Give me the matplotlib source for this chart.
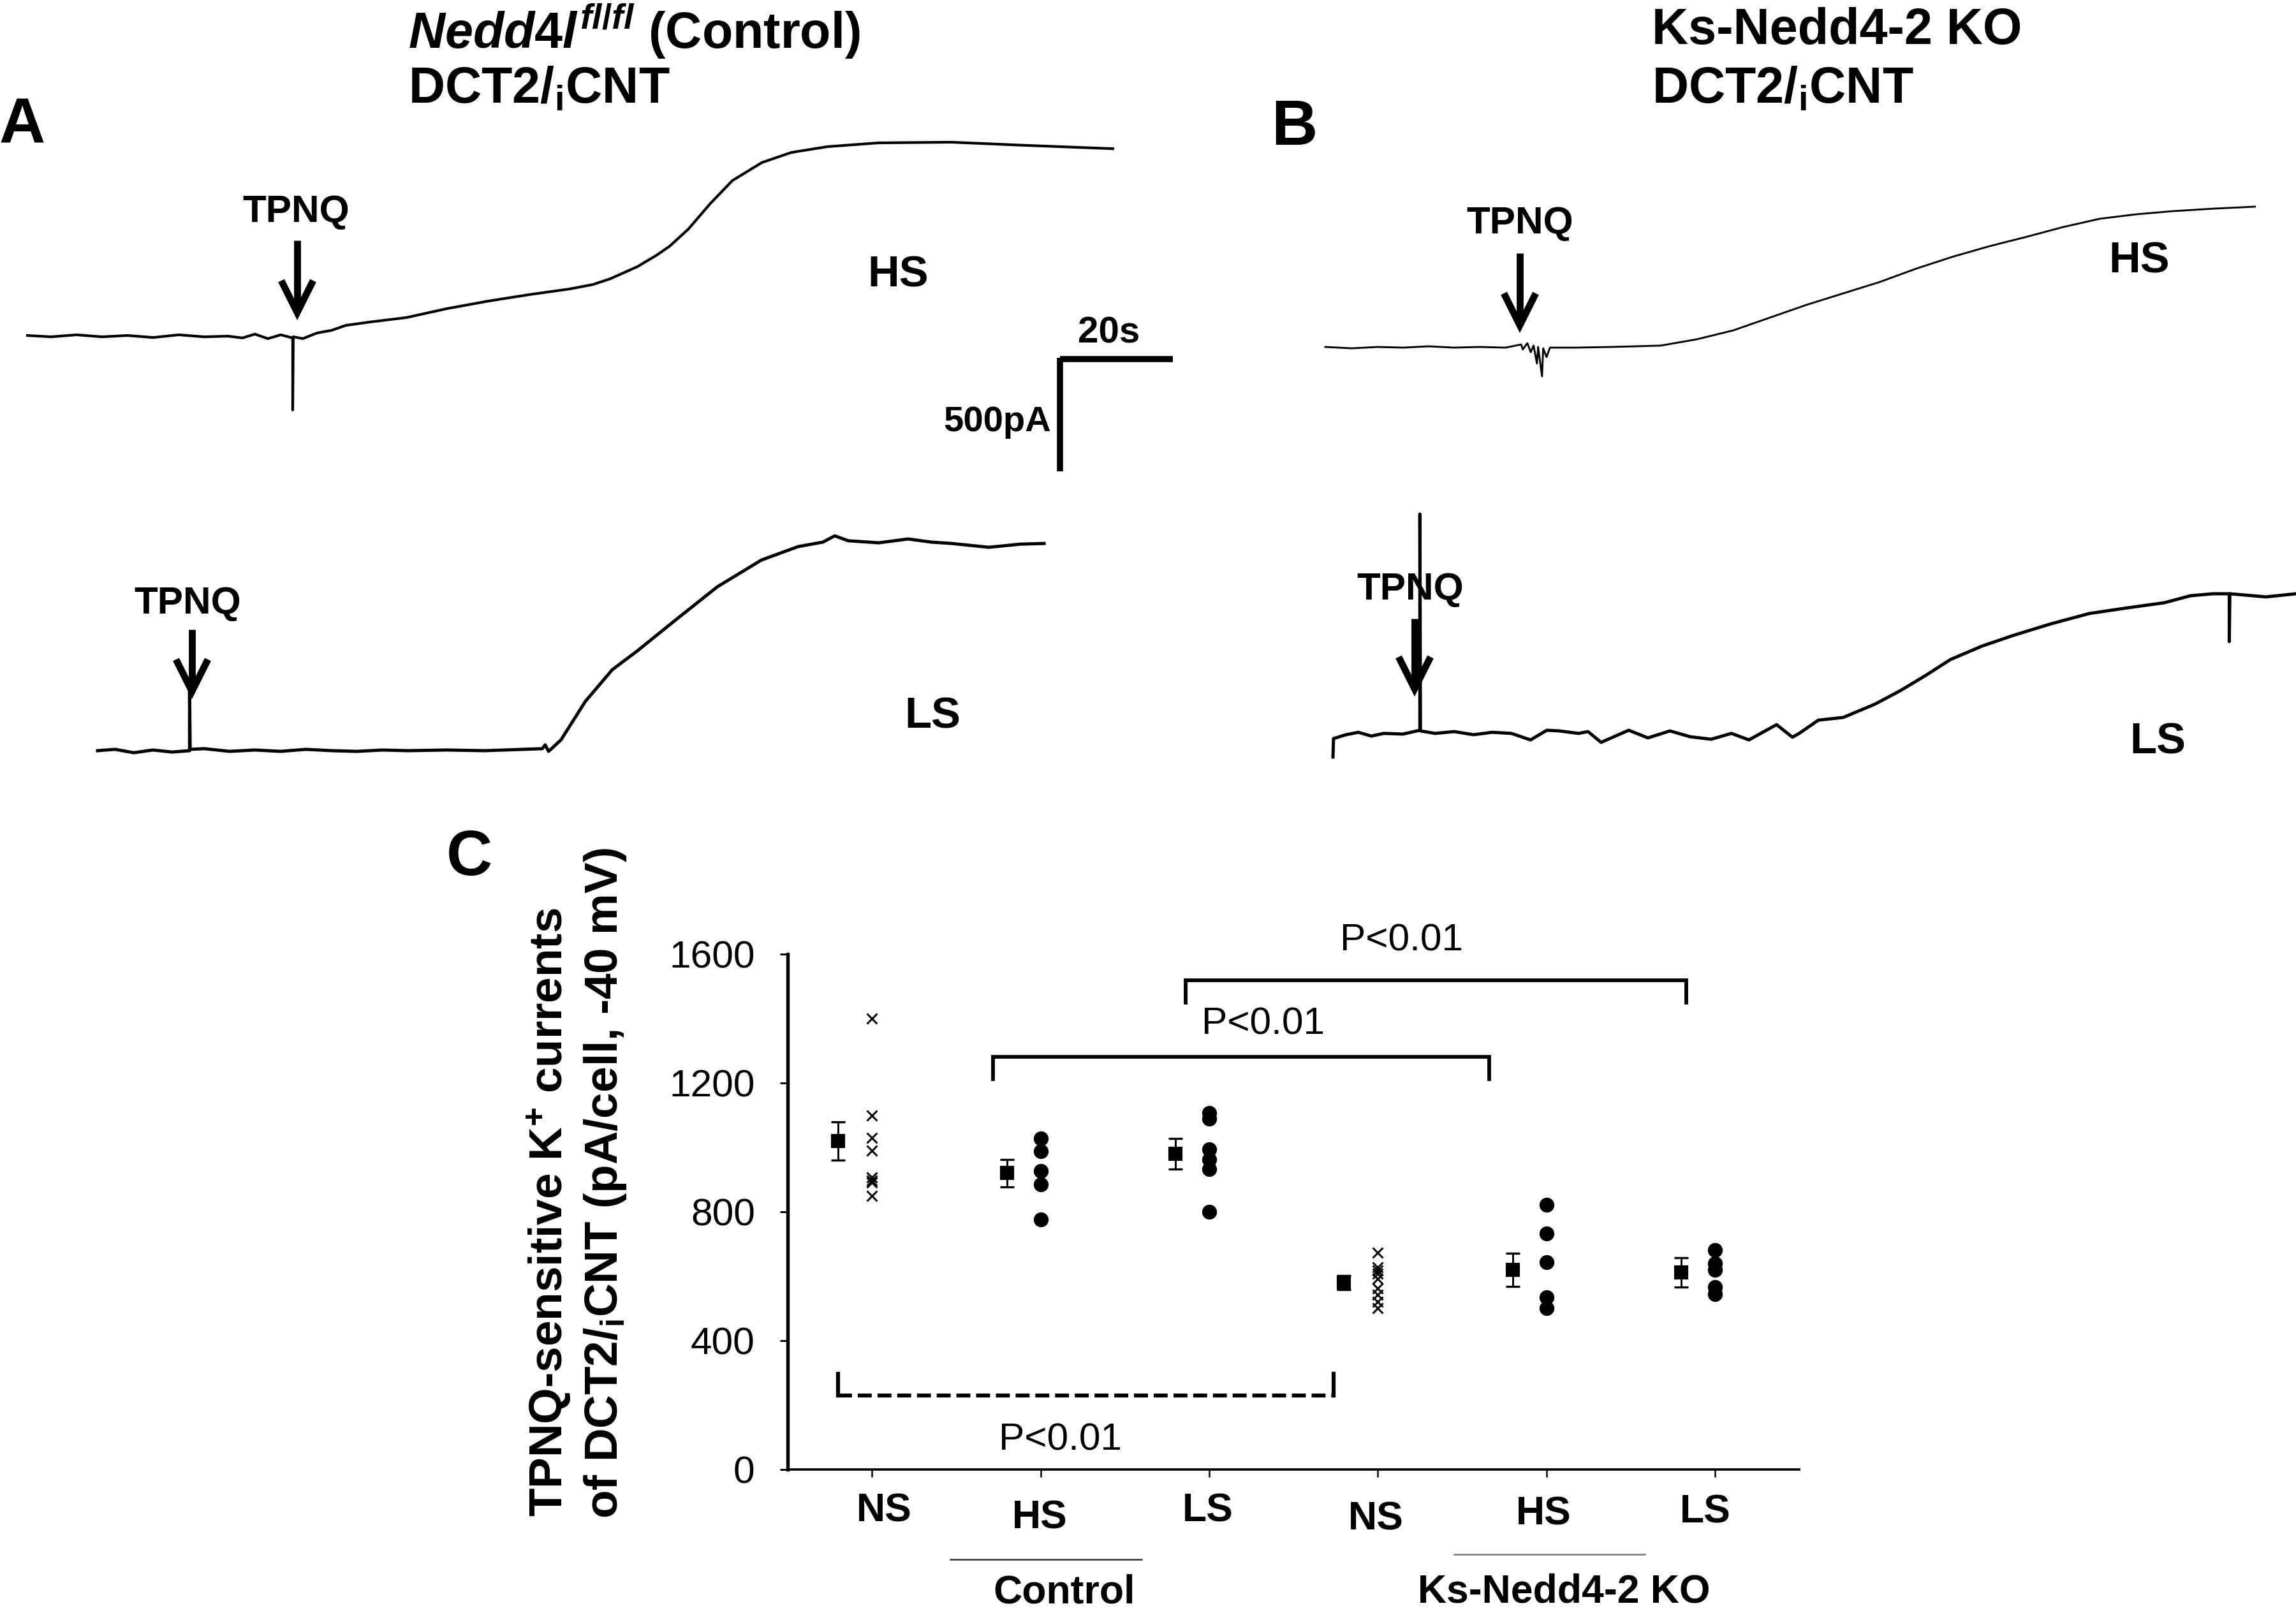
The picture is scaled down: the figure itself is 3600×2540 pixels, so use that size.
import matplotlib
matplotlib.use("Agg")
import matplotlib.pyplot as plt
from matplotlib.transforms import ScaledTranslation

plt.rcParams["font.family"] = ["Liberation Sans", "DejaVu Sans"]
plt.rcParams["mathtext.fontset"] = "custom"
plt.rcParams["mathtext.rm"] = "Liberation Sans:bold"
plt.rcParams["mathtext.it"] = "Liberation Sans:italic:bold"
plt.rcParams["mathtext.bf"] = "Liberation Sans:bold"
plt.rcParams["mathtext.sf"] = "Liberation Sans:bold"

# ---------------- data: current traces (time in s, current in pA) ----------------
a_hs_t = [0, 4.2, 8.7, 13.2, 17.7, 22.3, 26.8, 31.3, 35.5, 38.1, 40.3, 42.6, 44.9, 47.0, 47.0, 47.1,
          48.8, 51.3, 53.9, 56.4, 60.7, 67.2, 74.2, 81.6, 88.9, 96.0, 100.2, 103.3, 108.1, 111.5,
          113.8, 117.1, 121.0, 124.9, 130.1, 135.3, 141.7, 150.8, 163.7, 176.7, 192.3]
a_hs_i = [0, -6, 3, -6, 0, -9, 3, -6, -3, -11, 6, -14, 3, -11, -332, -6,
          -14, 11, 23, 45, 60, 80, 119, 153, 182, 207, 227, 253, 307, 358,
          398, 474, 588, 690, 770, 815, 841, 858, 861, 847, 832]

a_ls_t = [0, 3.1, 6.4, 9.8, 13.2, 16.3, 16.3, 16.4, 18.9, 23.4, 27.9, 32.4, 36.9, 41.5, 46.0, 50.5,
          55.0, 61.8, 68.6, 75.4, 78.8, 79.3, 79.9, 82.1, 86.4, 91.2, 95.7, 102.0, 109.8, 117.6,
          124.1, 128.5, 130.6, 133.0, 138.4, 143.6, 147.7, 151.3, 157.9, 163.5, 167.7]
a_ls_i = [0, 6, -9, 3, -6, 0, 273, 6, 9, -3, 3, -3, 6, 0, -3, 3,
          0, 3, 0, 6, 9, 26, -3, 48, 219, 361, 446, 574, 730, 849,
          909, 929, 957, 935, 926, 943, 929, 923, 906, 920, 923]

b_hs_t = [0, 4.7, 9.3, 13.8, 18.3, 22.8, 27.3, 31.9, 34.7, 35.0, 35.8, 36.4, 36.9, 37.5, 37.7, 38.4,
          38.6, 39.2, 39.8, 44.3, 50.6, 59.4, 65.8, 72.3, 78.8, 85.3, 91.8, 98.3, 104.7, 111.3,
          117.7, 124.3, 130.7, 137.2, 143.7, 150.2, 157.3, 164.7]
b_hs_i = [0, -6, 0, -3, 3, -3, 0, -3, 11, -11, 17, -23, 6, -74, 0, -131,
          -6, -45, -3, -3, 0, 6, 34, 74, 131, 188, 239, 290, 349, 403,
          449, 491, 534, 571, 591, 605, 616, 625]

b_ls_t = [0, 0.1, 2.3, 4.5, 6.8, 9.0, 12.4, 15.4, 15.4, 15.5, 18.1, 21.5, 24.9, 28.2, 31.6, 35.0,
          37.9, 40.1, 43.5, 45.2, 47.5, 52.4, 55.8, 59.7, 63.3, 67.0, 70.6, 73.7, 78.6, 81.4,
          82.6, 86.0, 90.4, 96.0, 100.5, 105.0, 109.4, 115.0, 120.6, 127.2, 134.0, 140.7, 147.3,
          151.9, 155.9, 158.8, 158.8, 158.9, 165.3, 170.6]
b_ls_i = [-99, -17, 0, 11, -6, 6, 3, 20, 983, 17, 6, 14, 0, 11, 6, -23,
          20, 17, 6, 14, -34, 20, -14, 17, -9, -20, 6, -23, 45, -11,
          6, 65, 77, 136, 196, 264, 335, 395, 443, 494, 540, 565, 588,
          619, 628, 628, 415, 628, 614, 628]

scale_t = 20     # s
scale_i = 500    # pA

# ---------------- data: panel C ----------------
groups = ["NS", "HS", "LS", "NS", "HS", "LS"]
means = [1020, 920, 980, 580, 620, 612]
sems = [60, 43, 47, 21, 52, 46]
ctrl_ns = [1400, 1100, 1030, 990, 906, 898, 891, 850]
ctrl_hs = [1028, 988, 927, 886, 777]
ctrl_ls = [1106, 1090, 995, 962, 932, 800]
ko_ns = [673, 628, 618, 608, 592, 563, 543, 520, 501]
ko_hs = [822, 733, 643, 534, 501]
ko_ls = [682, 639, 620, 567, 544]
y_ticks = [0, 400, 800, 1200, 1600]

# ---------------- figure ----------------
W, H, DPI = 3600, 2540, 300
fig = plt.figure(figsize=(W / DPI, H / DPI), dpi=DPI)
PX_PER_S = 8.85
PX_PER_PA = 0.352


def trace_axes(x0, y0):
    ax = fig.add_axes([0, 0, 1, 1])
    ax.set_xlim(-x0 / PX_PER_S, (W - x0) / PX_PER_S)
    ax.set_ylim(-(H - y0) / PX_PER_PA, y0 / PX_PER_PA)
    ax.axis("off")
    ax.patch.set_visible(False)
    return ax


ax_ahs = trace_axes(43, 526)
ax_ahs.plot(a_hs_t, a_hs_i, color="k", lw=1.0)
ax_als = trace_axes(153, 1177)
ax_als.plot(a_ls_t, a_ls_i, color="k", lw=1.2)
ax_bhs = trace_axes(2078, 544)
ax_bhs.plot(b_hs_t, b_hs_i, color="k", lw=0.7)
ax_bls = trace_axes(2090, 1152)
ax_bls.plot(b_ls_t, b_ls_i, color="k", lw=1.2)

# scale bar (in A-HS trace coordinates)
sb_t0, sb_i0 = 182.9, -105
ax_ahs.plot([sb_t0, sb_t0 + scale_t], [sb_i0, sb_i0], color="k", lw=2.3, solid_capstyle="butt")
ax_ahs.plot([sb_t0, sb_t0], [sb_i0 + 5, sb_i0 - scale_i], color="k", lw=2.3, solid_capstyle="butt")

# overlay in pixel coordinates for annotations
ov = fig.add_axes([0, 0, 1, 1])
ov.set_xlim(0, W)
ov.set_ylim(H, 0)
ov.axis("off")
ov.patch.set_visible(False)

bold = dict(fontweight="bold", color="k")
ov.text(35, 199, "A", fontsize=24, ha="center", va="center", **bold)
ov.text(2029, 201, "B", fontsize=24, ha="center", va="center", **bold)
ov.text(736, 1346, "C", fontsize=24, ha="center", va="center", **bold)

ov.text(640, 48, r"$\mathit{Nedd4l}^{\mathit{fl/fl}}$ (Control)", fontsize=19, ha="left", va="center", **bold)
ov.text(640, 141, r"DCT2/$_\mathrm{i}$CNT", fontsize=19, ha="left", va="center", **bold)
ov.text(2590, 48, "Ks-Nedd4-2 KO", fontsize=19, ha="left", va="center", **bold)
ov.text(2590, 141, r"DCT2/$_\mathrm{i}$CNT", fontsize=19, ha="left", va="center", **bold)

for (x, y, s) in [(1408, 432, "HS"), (1462, 1123, "LS"), (3354, 410, "HS"), (3383, 1164, "LS")]:
    ov.text(x, y, s, fontsize=16.5, ha="center", va="center", **bold)

for (x, y) in [(464, 332), (294, 946), (2383, 351), (2211, 924)]:
    ov.text(x, y, "TPNQ", fontsize=14.5, ha="center", va="center", **bold)


def down_arrow(x, top, tip, hw=25, hh=50):
    ov.plot([x, x], [top, tip - 6], color="k", lw=2.6, solid_capstyle="butt")
    ov.plot([x - hw, x, x + hw], [tip - hh, tip, tip - hh], color="k", lw=2.6,
            solid_joinstyle="miter", solid_capstyle="butt")


down_arrow(466, 377, 490)
down_arrow(301, 987, 1084)
down_arrow(2383, 397, 510)
down_arrow(2218, 970, 1080)

ov.text(1739, 522, "20s", fontsize=14, ha="center", va="center", **bold)
ov.text(1564, 662, "500pA", fontsize=13.5, ha="center", va="center", **bold)

# y label of panel C (two rotated lines)
ov.text(861, 2378, r"TPNQ-sensitive K$^{+}$ currents", fontsize=17.5, rotation=90,
        rotation_mode="anchor", ha="left", va="center", **bold)
ov.text(949, 2381, r"of DCT2/$_\mathrm{i}$CNT (pA/cell, -40 mV)", fontsize=17.5, rotation=90,
        rotation_mode="anchor", ha="left", va="center", **bold)

# group labels under the axis
ov.plot([1490, 1790], [2445, 2445], color="#333333", lw=0.6)
ov.plot([2280, 2579], [2437, 2437], color="#777777", lw=0.6)
ov.text(1669, 2497, "Control", fontsize=15, ha="center", va="center", **bold)
ov.text(2452, 2496, "Ks-Nedd4-2 KO", fontsize=15, ha="center", va="center", **bold)

# ---------------- panel C ----------------
axC = fig.add_axes([1235 / W, (H - 2304) / H, (2821 - 1235) / W, (2304 - 1496) / H])
axC.patch.set_visible(False)
xs = list(range(1, 7))
axC.set_xlim(0.5, 6.5)
axC.set_ylim(0, 1600)
for sp in ["top", "right"]:
    axC.spines[sp].set_visible(False)
axC.spines["left"].set_linewidth(1.3)
axC.spines["bottom"].set_linewidth(0.9)
axC.set_yticks(y_ticks)
axC.set_yticklabels([str(v) for v in y_ticks], fontsize=14.5)
axC.set_xticks(xs)
axC.set_xticklabels([""] * 6)
axC.tick_params(axis="y", direction="out", length=2.9, width=0.7, pad=9.4)
axC.tick_params(axis="x", direction="out", length=2.9, width=0.6)

axC.errorbar([x - 0.2 for x in xs], means, yerr=sems, fmt="s", color="k", ms=4.3,
             capsize=2.7, elinewidth=0.7, capthick=0.8, clip_on=False, zorder=3)
point_sets = [ctrl_ns, ctrl_hs, ctrl_ls, ko_ns, ko_hs, ko_ls]
for x, vals, grp in zip(xs, point_sets, groups):
    if grp == "NS":
        axC.plot([x] * len(vals), vals, "x", color="k", ms=4.0, mew=0.7, clip_on=False)
    else:
        axC.plot([x] * len(vals), vals, "o", color="k", ms=5.6, mew=0, clip_on=False)

# category labels (staggered like the original)
lab_dx = [19, -1, -2, -3, -4, -15]
lab_dy = [65, 76, 65, 78, 70, 67]
xt = axC.get_xaxis_transform()
for x, g, dx, dy in zip(xs, groups, lab_dx, lab_dy):
    axC.text(x, 0, g, fontsize=15, fontweight="bold", ha="center", va="center",
             transform=xt + ScaledTranslation(dx / DPI, -dy / DPI, fig.dpi_scale_trans),
             clip_on=False)

# significance brackets
brackets = [  # x_left, x_right, y_bar, y_end, style
    (1.72, 4.66, 1282, 1212, "-"),
    (2.86, 5.83, 1519, 1450, "-"),
    (0.80, 3.74, 230, 298, "--"),
]
for xl, xr, yb, ye, st in brackets:
    if st == "-":
        axC.plot([xl, xl, xr, xr], [ye, yb, yb, ye], color="k", lw=1.4, clip_on=False,
                 solid_joinstyle="miter")
    else:
        axC.plot([xl, xl], [ye, yb], color="k", lw=1.5, clip_on=False)
        axC.plot([xr, xr], [ye, yb], color="k", lw=1.5, clip_on=False)
        axC.plot([xl, xr], [yb, yb], color="k", lw=1.5, clip_on=False,
                 linestyle=(0, (3.5, 1.45)))

for x, y in [(4.14, 1642), (3.32, 1382), (2.116, 91)]:
    axC.text(x, y, "P<0.01", fontsize=14.5, ha="center", va="center", clip_on=False)

fig.savefig("out.png", dpi=DPI)
